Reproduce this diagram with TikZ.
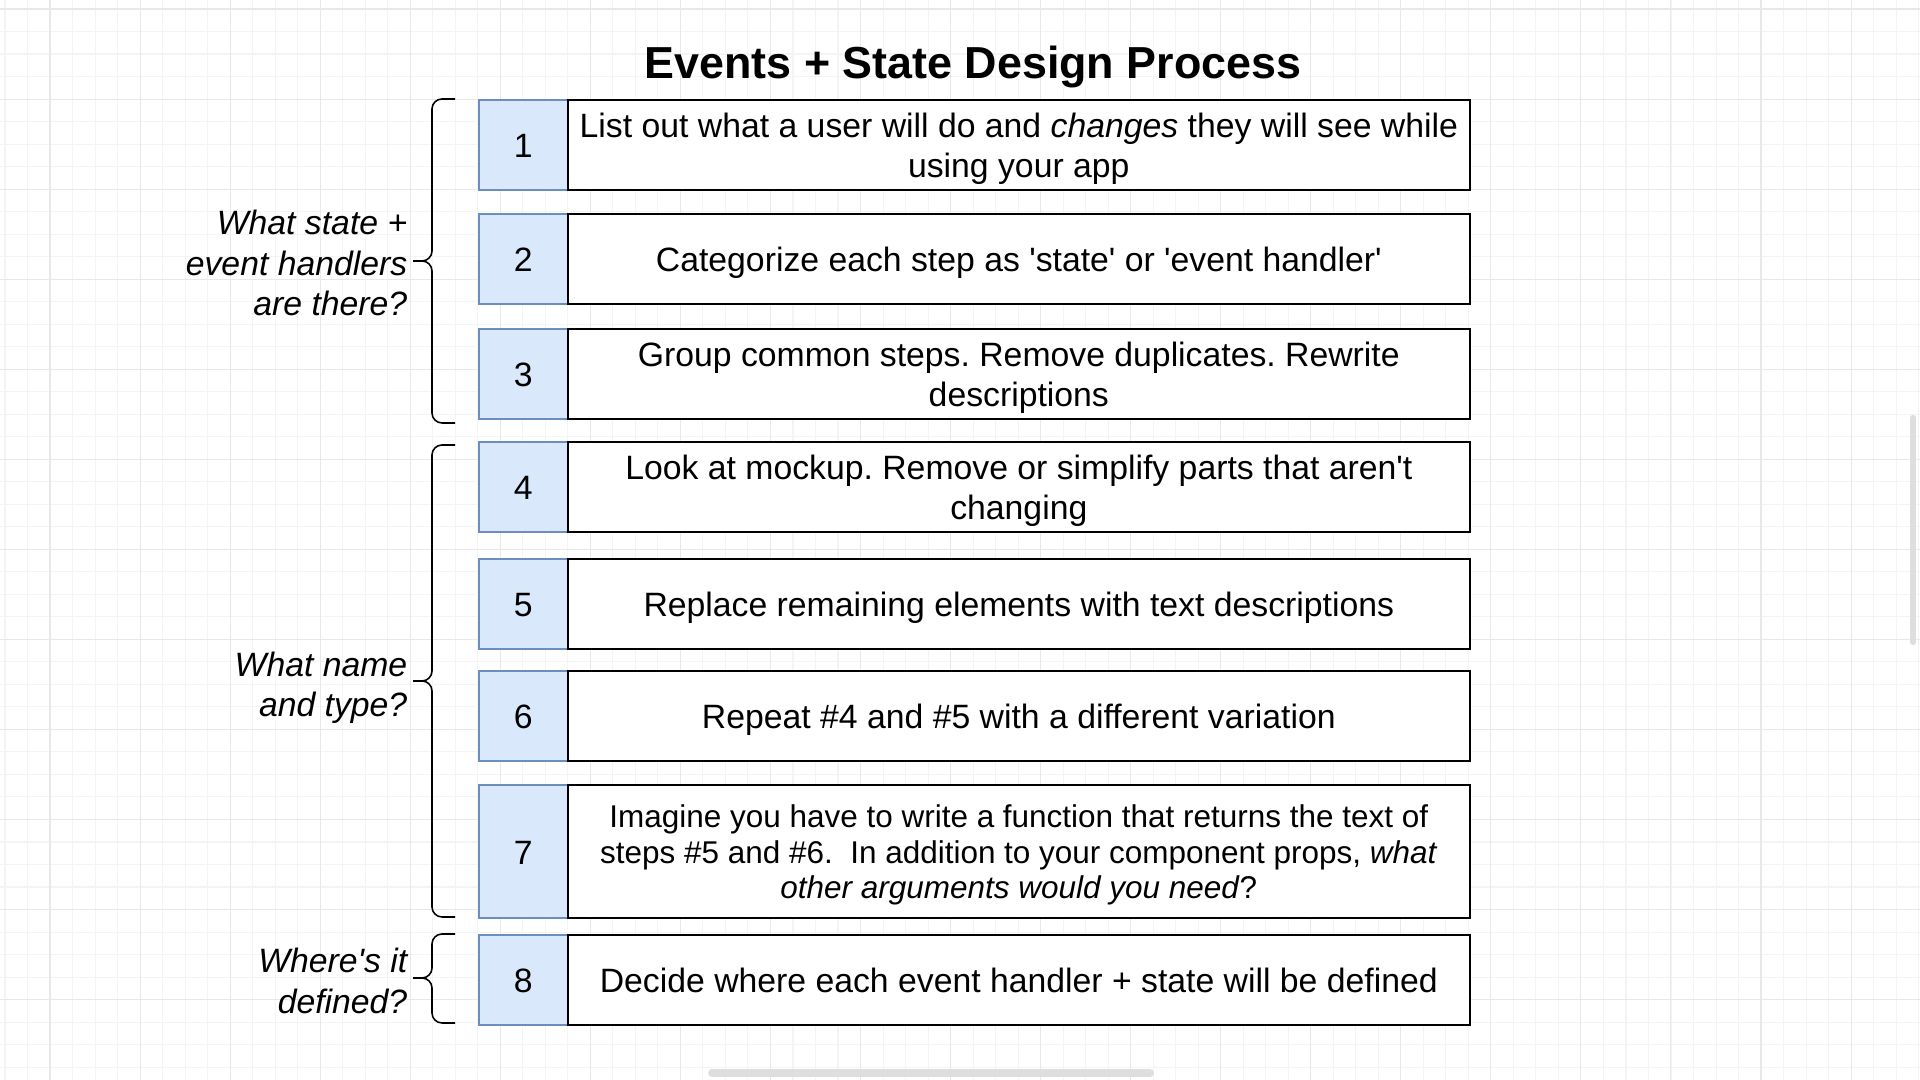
\documentclass[tikz,border=0pt]{standalone}
\usepackage{fontspec}
\setmainfont{Liberation Sans}[Ligatures=TeXOff]
\definecolor{stepfill}{HTML}{DAE8FC}
\definecolor{stepline}{HTML}{6C8EBF}
\definecolor{gridminor}{HTML}{F4F4F4}
\definecolor{gridmajor}{HTML}{E8E8E8}
\newcommand\boxstrut{\rule[-0.1875em]{0pt}{1.125em}}
\frenchspacing

\begin{document}
\begin{tikzpicture}[x=0.01cm, y=-0.01cm,
  numbox/.style={draw=stepline, fill=stepfill, line width=0.6pt, anchor=north west,
    inner sep=0pt, minimum width=0.894cm, minimum height=0.895cm,
    font=\fontsize{9.6}{11.3}\selectfont,
    execute at begin node=\boxstrut, execute at end node=\boxstrut},
  descbox/.style={draw=black, fill=white, line width=0.6pt, anchor=north west,
    inner sep=0pt, minimum width=9.01cm, minimum height=0.895cm, align=center,
    font=\fontsize{9.6}{11.3}\selectfont,
    execute at begin node=\boxstrut, execute at end node=\boxstrut},
  question/.style={anchor=east, align=right, inner sep=0pt,
    font=\fontsize{9.6}{11.5}\selectfont\itshape},
  bracket/.style={line width=0.45pt, rounded corners=0.1cm},
  scrollbar/.style={line cap=round, draw=black!13}]

% Canvas and faint grid
\fill[white] (0,0) rectangle (1920,1080);
\useasboundingbox (0,0) rectangle (1920,1080);
\draw[gridminor, line width=0.3pt, shift={(5,9)}, step=0.225cm] (-5,-9) grid (1915,1071);
\draw[gridmajor, line width=0.3pt, shift={(50,9)}, step=0.9cm] (-50,-9) grid (1870,1071);

% Title
\node[font=\fontsize{12.75}{15}\selectfont\bfseries, anchor=base] (title) at (973,78.5) {Events + State Design Process};

% Step numbers (left column)
\node[numbox] (N1) at (477.6,99) {1};
\node[numbox] (N2) at (477.6,213) {2};
\node[numbox] (N3) at (477.6,328) {3};
\node[numbox] (N4) at (477.6,441) {4};
\node[numbox] (N5) at (477.6,558) {5};
\node[numbox] (N6) at (477.6,670) {6};
\node[numbox, minimum height=1.33cm] (N7) at (477.6,784) {7};
\node[numbox] (N8) at (477.6,934) {8};

% Step descriptions (right column); multi-line ones get a strut in their first line
\node[descbox] (T1) at (567,99) {\boxstrut List out what a user will do and \textit{changes} they will see while\\using your app};
\node[descbox] (T2) at (567,213) {Categorize each step as 'state' or 'event handler'};
\node[descbox] (T3) at (567,328) {\boxstrut Group common steps. Remove duplicates. Rewrite\\descriptions};
\node[descbox] (T4) at (567,441) {\boxstrut Look at mockup. Remove or simplify parts that aren't\\changing};
\node[descbox] (T5) at (567,558) {Replace remaining elements with text descriptions};
\node[descbox] (T6) at (567,670) {Repeat \#4 and \#5 with a different variation};
\node[descbox, minimum height=1.33cm, font=\fontsize{8.95}{10.1}\selectfont] (T7) at (567,784)
  {\boxstrut Imagine you have to write a function that returns the text of\\steps \#5 and \#6.\ \ In addition to your component props, \textit{what}\\\textit{other arguments would you need}?};
\node[descbox] (T8) at (567,934) {Decide where each event handler + state will be defined};

% Braces grouping the steps
\draw[bracket] (455,99) -- (432,99) -- (432,261) -- (413,261);
\draw[bracket] (413,261) -- (432,261) -- (432,423) -- (455,423);
\draw[bracket] (455,445) -- (432,445) -- (432,681) -- (413,681);
\draw[bracket] (413,681) -- (432,681) -- (432,917) -- (455,917);
\draw[bracket] (455,934) -- (432,934) -- (432,978) -- (413,978);
\draw[bracket] (413,978) -- (432,978) -- (432,1023) -- (455,1023);

% Questions beside the braces
\node[question] (Q1) at (408,263) {What state +\\event handlers\\are there?};
\node[question] (Q2) at (408,688) {What name\\and type?};
\node[question] (Q3) at (408,981) {Where's it\\defined?};

% Scroll bars of the editor
\draw[scrollbar, line width=2.2pt] (712,1073) -- (1150,1073);
\draw[scrollbar, line width=1.8pt] (1913,418) -- (1913,642);

\end{tikzpicture}
\end{document}
